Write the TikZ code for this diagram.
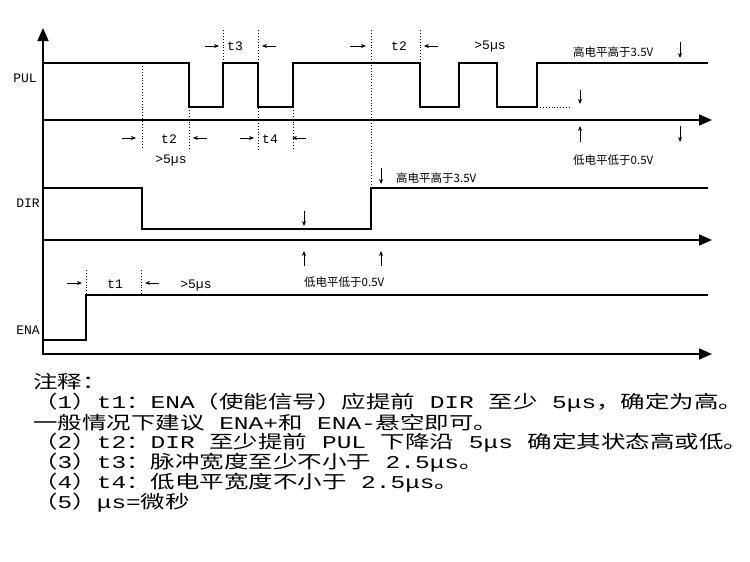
\documentclass[tikz,border=0pt]{standalone}
\usepackage{fontspec}
\setmainfont{Liberation Mono}
\newfontfamily\cjk{Noto Sans CJK SC}
\newcommand\zh[1]{{\cjk #1}}
\newcommand\nl[1]{\scalebox{1.36}[1]{#1}}
\usetikzlibrary{arrows.meta}
\tikzset{
  wave/.style={line width=1.4pt},
  axisln/.style={line width=1.6pt,-{Triangle[length=13pt,width=11pt]}},
  guide/.style={dotted,line width=0.9pt},
  sarr/.style={line width=0.8pt,-{Stealth[length=5pt,width=4pt]}},
  lbl/.style={inner sep=0pt,font=\fontsize{13}{13}\selectfont},
  cl/.style={inner sep=0pt,font=\cjk\fontsize{11.5}{12}\selectfont},
  note/.style={inner sep=0pt,anchor=west,font=\fontsize{18}{18}\selectfont}
}
\begin{document}
\begin{tikzpicture}[x=1pt,y=-1pt]
\useasboundingbox (0,0) rectangle (750,562);
% axes
\draw[line width=1.6pt,-{Triangle[length=13pt,width=11pt]}] (43,355) -- (43,28);
\draw[axisln] (43,120) -- (712,120);
\draw[axisln] (43,240) -- (712,240);
\draw[axisln] (43,354) -- (712,354);
% signal labels
\node[lbl] (pul) at (25,78) {PUL};
\node[lbl] (dir) at (28,203) {DIR};
\node[lbl] (ena) at (28,330) {ENA};
% PUL waveform
\draw[wave] (43,63) -- (189,63) -- (189,107) -- (223,107) -- (223,63) -- (258,63) -- (258,107) -- (293,107) -- (293,63) -- (420,63) -- (420,107) -- (459,107) -- (459,63) -- (497,63) -- (497,107) -- (537,107) -- (537,63) -- (708,63);
\draw[guide] (537,107) -- (570,107);
% DIR waveform
\draw[wave] (43,188) -- (142,188) -- (142,229) -- (371,229) -- (371,188) -- (708,188);
% ENA waveform
\draw[wave] (43,340) -- (86,340) -- (86,295) -- (708,295);
% guides
\draw[guide] (142,63) -- (142,150);
\draw[guide] (189,107) -- (189,150);
\draw[guide] (223,30) -- (223,63);
\draw[guide] (258,30) -- (258,150);
\draw[guide] (293,107) -- (293,150);
\draw[guide] (371,30) -- (371,188);
\draw[guide] (420,30) -- (420,63);
\draw[guide] (86,270) -- (86,295);
\draw[guide] (141,270) -- (141,295);
% t3
\draw[sarr] (205,46) -- (219,46);
\node[lbl] (t3) at (235,46) {t3};
\draw[sarr] (276,46) -- (262,46);
% t2 bottom
\draw[sarr] (122,138) -- (136,138);
\node[lbl] (t2a) at (169,139) {t2};
\draw[sarr] (207,138) -- (193,138);
\node[lbl] (g1) at (171,160) {>5µs};
% t4
\draw[sarr] (240,138) -- (254,138);
\node[lbl] (t4) at (270,139) {t4};
\draw[sarr] (306,138) -- (292,138);
% t2 top
\draw[sarr] (350,46) -- (366,46);
\node[lbl] (t2b) at (399,46) {t2};
\draw[sarr] (438,46) -- (424,46);
\node[lbl] (g2) at (490,46) {>5µs};
% level labels PUL
\node[cl,anchor=west] (h1) at (573,52) {高电平高于3.5V};
\draw[sarr] (680,42) -- (680,58);
\draw[sarr] (580,90) -- (580,104);
\draw[sarr] (580,142) -- (580,126);
\draw[sarr] (680,126) -- (680,142);
\node[cl,anchor=west] (l1) at (573,160) {低电平低于0.5V};
% DIR labels
\draw[sarr] (381,168) -- (381,184);
\node[cl,anchor=west] (h2) at (396,178) {高电平高于3.5V};
\draw[sarr] (304,211) -- (304,226);
\draw[sarr] (304,266) -- (304,251);
\draw[sarr] (381,266) -- (381,251);
\node[cl,anchor=west] (l2) at (304,282) {低电平低于0.5V};
% t1
\draw[sarr] (67,283) -- (82,283);
\node[lbl] (t1) at (115,284) {t1};
\draw[sarr] (159,283) -- (145,283);
\node[lbl] (g3) at (196,285) {>5µs};
% notes
\node[note] (n0) at (33,382) {\nl{\zh{注释：}}};
\node[note] (n1) at (33,403) {\nl{\zh{（}1\zh{）}t1\zh{：}ENA\zh{（使能信号）应提前} DIR \zh{至少} 5μs\zh{，确定为高。}}};
\node[note] (n1b) at (33,423) {\nl{\zh{一般情况下建议} ENA+\zh{和} ENA-\zh{悬空即可。}}};
\node[note] (n2) at (33,443) {\nl{\zh{（}2\zh{）}t2\zh{：}DIR \zh{至少提前} PUL \zh{下降沿} 5μs \zh{确定其状态高或低。}}};
\node[note] (n3) at (33,463) {\nl{\zh{（}3\zh{）}t3\zh{：脉冲宽度至少不小于} 2.5μs\zh{。}}};
\node[note] (n4) at (33,483) {\nl{\zh{（}4\zh{）}t4\zh{：低电平宽度不小于} 2.5μs\zh{。}}};
\node[note] (n5) at (33,503) {\nl{\zh{（}5\zh{）}μs=\zh{微秒}}};
\end{tikzpicture}
\end{document}
